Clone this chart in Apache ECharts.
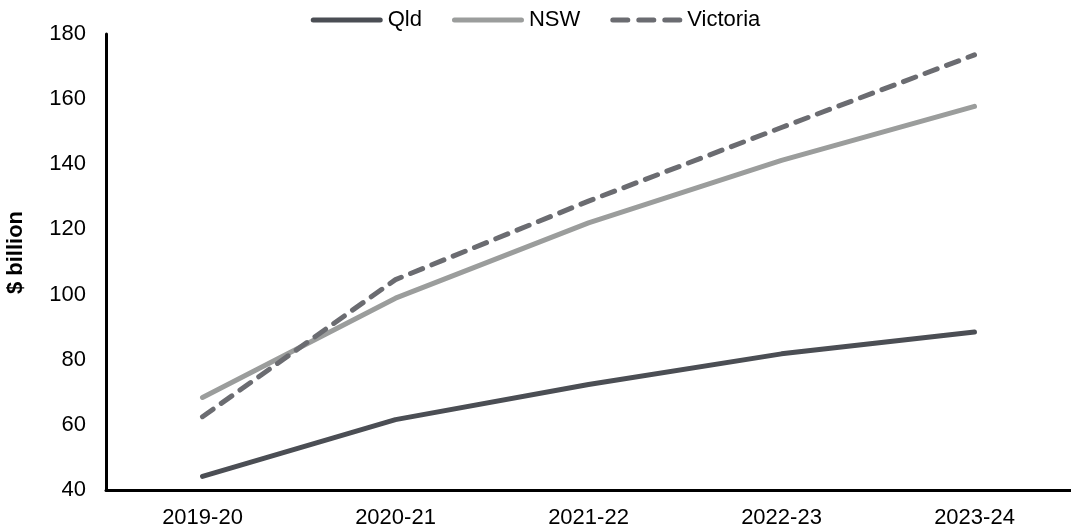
<!DOCTYPE html>
<html>
<head>
<meta charset="utf-8">
<script src="https://cdn.jsdelivr.net/npm/echarts@6/dist/echarts.min.js"></script>
<style>
  html, body { margin: 0; padding: 0; background: #fff; }
  #chart { width: 1071px; height: 528px; }
</style>
</head>
<body>
<div id="chart"></div>
<script>
// Financial years on the horizontal axis
const years = ['2019-20', '2020-21', '2021-22', '2022-23', '2023-24'];

// Values in $ billion for each state
const qld = [44.2, 61.6, 72.4, 81.8, 88.5];
const nsw = [68.4, 98.9, 122.0, 141.2, 157.8];
const victoria = [62.5, 104.6, 128.7, 151.3, 173.6];

const FONT = '"Liberation Sans", Arial, sans-serif';

// Legend keys: a rounded bar for solid lines, three rounded dashes for the dashed one
function pill(x0, x1) {
  return 'M' + (x0 + 2.5) + ',0 H' + (x1 - 2.5) +
    ' A2.5,2.5 0 0 1 ' + (x1 - 2.5) + ',5 H' + (x0 + 2.5) +
    ' A2.5,2.5 0 0 1 ' + (x0 + 2.5) + ',0 Z';
}
const SOLID_KEY = 'path://' + pill(0, 72);
const DASH_KEY = 'path://' + pill(0, 20) + ' ' + pill(26, 46) + ' ' + pill(52, 72);

const chart = echarts.init(document.getElementById('chart'), null, { renderer: 'canvas' });

function lineSeries(name, data, color, dashed) {
  return {
    name: name,
    type: 'line',
    data: data,
    showSymbol: false,
    symbol: 'none',
    smooth: false,
    lineStyle: {
      color: color,
      width: 5,
      type: dashed ? [13, 10] : 'solid',
      cap: 'round',
      join: 'round'
    },
    itemStyle: { color: color },
    emphasis: { disabled: true }
  };
}

chart.setOption({
  animation: false,
  backgroundColor: '#ffffff',
  textStyle: { fontFamily: FONT },
  legend: {
    top: 4,
    left: 'center',
    itemWidth: 72,
    itemHeight: 5,
    itemGap: 30,
    textStyle: { fontSize: 22, color: '#000', fontFamily: FONT },
    data: [
      { name: 'Qld', icon: SOLID_KEY },
      { name: 'NSW', icon: SOLID_KEY },
      { name: 'Victoria', icon: DASH_KEY }
    ]
  },
  grid: {
    left: 106,
    right: 0,
    top: 34,
    bottom: 38,
    containLabel: false,
    outerBoundsMode: 'none'
  },
  xAxis: {
    type: 'category',
    data: years,
    boundaryGap: true,
    axisLine: { show: true, lineStyle: { color: '#000', width: 3 } },
    axisTick: { show: false },
    axisLabel: { fontSize: 22, color: '#000', margin: 17, fontFamily: FONT },
    splitLine: { show: false }
  },
  yAxis: {
    type: 'value',
    min: 40,
    max: 180,
    interval: 20,
    name: '$ billion',
    nameLocation: 'middle',
    nameGap: 79,
    nameTextStyle: {
      fontSize: 22, fontWeight: 'bold', color: '#000', fontFamily: FONT,
      padding: [0, 0, 0, 19]
    },
    axisLine: { show: true, lineStyle: { color: '#000', width: 3 } },
    axisTick: { show: false },
    axisLabel: { fontSize: 22, color: '#000', margin: 20, fontFamily: FONT },
    splitLine: { show: false }
  },
  series: [
    lineSeries('Qld', qld, '#4b4e54', false),
    lineSeries('NSW', nsw, '#9b9d9c', false),
    lineSeries('Victoria', victoria, '#6b6c71', true)
  ]
});
</script>
</body>
</html>
